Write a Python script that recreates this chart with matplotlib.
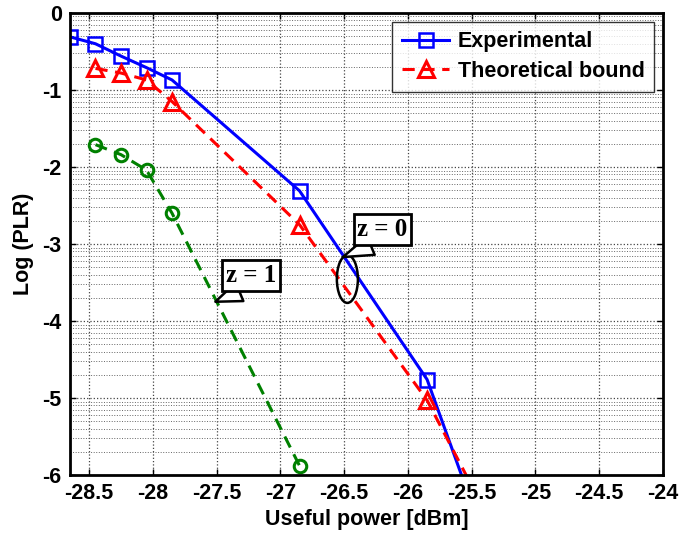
import numpy as np
import matplotlib.pyplot as plt
from matplotlib.patches import Ellipse

# data
power_exp = [-28.65, -28.45, -28.25, -28.05, -27.85, -26.85, -25.85, -25.45]
plr_exp = [-0.31, -0.40, -0.56, -0.71, -0.87, -2.31, -4.76, -6.6]

power_th = [-28.45, -28.25, -28.05, -27.85, -26.85, -25.85, -25.45]
plr_th = [-0.72, -0.78, -0.87, -1.15, -2.75, -5.03, -6.3]

power_z1 = [-28.45, -28.25, -28.05, -27.85, -26.85]
plr_z1 = [-1.71, -1.84, -2.04, -2.60, -5.88]

xticks = [-28.5, -28, -27.5, -27, -26.5, -26, -25.5, -25, -24.5, -24]
xticklabels = ['-28.5', '-28', '-27.5', '-27', '-26.5', '-26', '-25.5', '-25', '-24.5', '-24']
yticks = [0, -1, -2, -3, -4, -5, -6]

plt.rcParams['font.family'] = ['Liberation Sans', 'DejaVu Sans']
plt.rcParams['font.weight'] = 'bold'
plt.rcParams['axes.unicode_minus'] = False

fig = plt.figure(figsize=(6.95, 5.36), dpi=100)
ax = fig.add_axes([0.1007, 0.1138, 0.8533, 0.862])

ax.plot(power_exp, plr_exp, '-', color='#0000ff', lw=2.2,
        marker='s', ms=10, mfc='none', mec='#0000ff', mew=1.8,
        label='Experimental')
ax.plot(power_th, plr_th, '--', color='#ff0000', lw=2.2, dashes=(4, 2.5),
        marker='^', ms=11, mfc='none', mec='#ff0000', mew=2.2,
        label='Theoretical bound')
ax.plot(power_z1, plr_z1, '--', color='#008000', lw=2.2, dashes=(4, 2.5),
        marker='o', ms=9, mfc='none', mec='#008000', mew=2.2)

ax.set_xlim(-28.65, -24)
ax.set_ylim(-6, 0)
ax.set_xticks(xticks)
ax.set_xticklabels(xticklabels)
ax.set_yticks(yticks)

# log-style minor grid inside every decade
minor = []
for k in range(-6, 0):
    for m in range(2, 10):
        minor.append(k + np.log10(m))
ax.set_yticks(minor, minor=True)

ax.grid(True, which='major', color='#444444', linestyle=':', lw=0.9)
ax.grid(True, which='minor', axis='y', color='#666666', linestyle=':', lw=0.7)
ax.tick_params(which='both', direction='in', top=True, right=True,
               labelsize=15.5, width=1, length=4, pad=6)
ax.tick_params(which='minor', length=0)
for s in ax.spines.values():
    s.set_linewidth(2)

ax.set_xlabel('Useful power [dBm]', fontsize=15.5, fontweight='bold', labelpad=3)
ax.set_ylabel('Log (PLR)', fontsize=15.5, fontweight='bold', labelpad=6)

leg = ax.legend(loc='upper right', fontsize=15.5, frameon=True, fancybox=False,
                edgecolor='black', handlelength=2.2, borderpad=0.45,
                labelspacing=0.4, handletextpad=0.4,
                bbox_to_anchor=(1, 1), borderaxespad=0.4)
leg.get_frame().set_linewidth(1)
for t in leg.get_texts():
    t.set_fontweight('bold')

# z = 0 ellipse and callouts
ax.add_patch(Ellipse((-26.475, -3.455), 0.165, 0.62, fill=False,
                     ec='black', lw=1.8, zorder=5))
callout = dict(arrowstyle='wedge,tail_width=0.8', fc='white', ec='black',
               lw=1.8, shrinkA=0, shrinkB=0, relpos=(0.5, 0.0))
ax.annotate('z = 0', xy=(-26.51, -3.17), xytext=(-26.2, -2.81),
            fontsize=18, fontweight='bold', family='Liberation Serif',
            ha='center', va='center', zorder=6,
            bbox=dict(boxstyle='square,pad=0.15', fc='white', ec='black', lw=2),
            arrowprops=callout)
ax.annotate('z = 1', xy=(-27.51, -3.75), xytext=(-27.23, -3.41),
            fontsize=18, fontweight='bold', family='Liberation Serif',
            ha='center', va='center', zorder=6,
            bbox=dict(boxstyle='square,pad=0.15', fc='white', ec='black', lw=2),
            arrowprops=callout)

fig.savefig('out.png', dpi=100)
